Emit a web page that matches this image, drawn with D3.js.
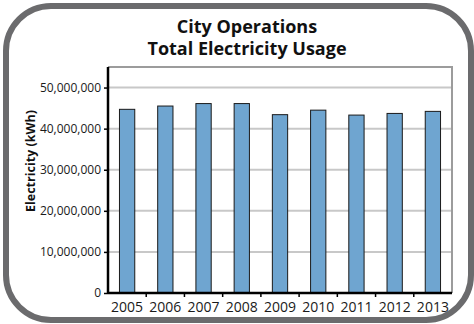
<!DOCTYPE html>
<html><head><meta charset="utf-8">
<script src="https://cdn.jsdelivr.net/npm/d3@7"></script>
<style>html,body{margin:0;padding:0;background:#fff;}svg{display:block;}</style>
</head><body>
<svg id="chart" width="474" height="324"></svg>
<script>
const years = ["2005","2006","2007","2008","2009","2010","2011","2012","2013"];
const usage = [44700000,45500000,46100000,46100000,43400000,44500000,43300000,43700000,44200000];
const yTicks = [0,10000000,20000000,30000000,40000000,50000000];
const titleLines = ["City Operations","Total Electricity Usage"];
const yLabel = "Electricity (kWh)";

const svg = d3.select("#chart");
const font = "'Open Sans', 'Noto Sans', sans-serif";

svg.append("rect").attr("x",6).attr("y",6).attr("width",465).attr("height",314)
  .attr("rx",45).attr("ry",45).attr("fill","#fff").attr("stroke","#6b6b6d").attr("stroke-width",6);

const m = {left:108, right:452, top:67, bottom:293};
const x = d3.scaleBand().domain(years).range([m.left, m.right]).paddingInner(0.6).paddingOuter(0.3);
const y = d3.scaleLinear().domain([0,55000000]).range([m.bottom, m.top]);

// gridlines
svg.append("g").selectAll("line").data(yTicks.filter(d=>d>0)).join("line")
  .attr("x1",m.left).attr("x2",m.right).attr("y1",d=>y(d)).attr("y2",d=>y(d))
  .attr("stroke","#c8c8c8").attr("stroke-width",2);
// plot border top & right
svg.append("path").attr("d",`M${m.left},${m.top}H${m.right}V${m.bottom}`)
  .attr("fill","none").attr("stroke","#9c9c9c").attr("stroke-width",2);

// bars
svg.append("g").selectAll("rect").data(years).join("rect")
  .attr("x",d=>x(d)).attr("width",x.bandwidth())
  .attr("y",(d,i)=>y(usage[i])).attr("height",(d,i)=>y(0)-y(usage[i]))
  .attr("fill","#6fa5d0").attr("stroke","#1a1a1a").attr("stroke-width",1);

// y axis
const yAxis = d3.axisLeft(y).tickValues(yTicks).tickFormat(d3.format(",")).tickSize(4).tickPadding(3);
const gy = svg.append("g").attr("transform",`translate(${m.left},0)`).call(yAxis);
gy.select(".domain").attr("d",`M0,${m.top}V${m.bottom}`).attr("stroke","#000").attr("stroke-width",2.5);
gy.selectAll(".tick line").attr("stroke","#000").attr("stroke-width",1.5);
gy.selectAll("text").attr("font-family",font).attr("font-size",12).attr("fill","#1a1a1a");

// x axis
const xAxis = d3.axisBottom(x).tickSize(0).tickPadding(9);
const gx = svg.append("g").attr("transform",`translate(0,${m.bottom})`).call(xAxis);
gx.select(".domain").attr("d",`M${m.left},0H${m.right}`).attr("stroke","#000").attr("stroke-width",2.5);
gx.selectAll("text").attr("font-family",font).attr("font-size",14).attr("fill","#1a1a1a");
// boundary ticks
const step = x.step();
svg.append("g").selectAll("line").data(years.slice(1)).join("line")
  .attr("x1",d=>x(d)-x.paddingInner()*step/2).attr("x2",d=>x(d)-x.paddingInner()*step/2)
  .attr("y1",m.bottom).attr("y2",m.bottom+4).attr("stroke","#000").attr("stroke-width",1.5);

// title
svg.append("g").selectAll("text").data(titleLines).join("text")
  .attr("x",247).attr("y",(d,i)=>33+i*22)
  .attr("text-anchor","middle").attr("font-family",font).attr("font-weight","bold")
  .attr("font-size",18).attr("fill","#111").text(d=>d);

// y label
svg.append("text").attr("transform","translate(35,161) rotate(-90)")
  .attr("text-anchor","middle").attr("font-family",font).attr("font-weight","bold")
  .attr("font-size",12.5).attr("fill","#111").text(yLabel);
</script>
</body></html>
